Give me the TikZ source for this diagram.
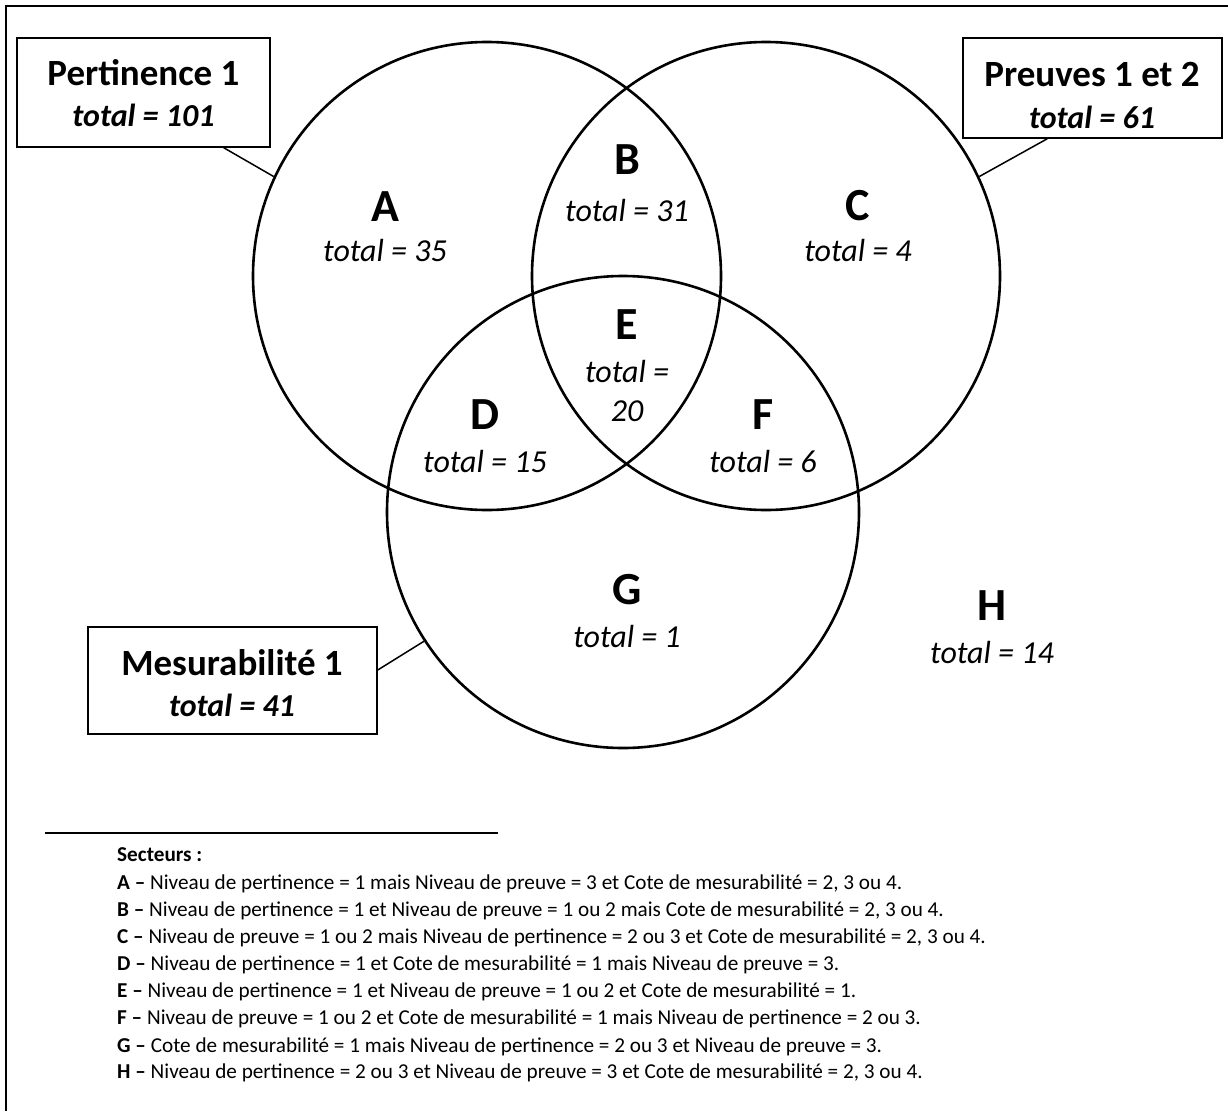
\documentclass[tikz,border=0pt]{standalone}
\usepackage{fontspec}
\setmainfont{Carlito}
\begin{document}
\begin{tikzpicture}[x=1pt,y=-1pt,
  setring/.style={draw, circle, line width=2.6pt, inner sep=0pt},
  tagbox/.style={draw, line width=1.5pt, inner sep=0pt},
  boxtitle/.style={font=\fontsize{37}{40}\selectfont\bfseries},
  boxtotal/.style={font=\fontsize{32}{36}\selectfont\bfseries\itshape},
  zone/.style={font=\fontsize{46}{50}\selectfont\bfseries},
  zonetotal/.style={font=\fontsize{32}{36}\selectfont\itshape},
  keyline/.style={anchor=base west, font=\fontsize{21.2}{24}\selectfont, inner sep=0pt},
  link/.style={line width=1.5pt}]
\useasboundingbox (0,0) rectangle (1228,1111);
% outer frame
\draw[line width=1.5pt] (1228,6) -- (6,6) -- (6,1111);

% the three sets
\node[setring, minimum size=468pt] (pert) at (487,276) {};
\node[setring, minimum size=468pt] (preu) at (766,276) {};
\node[setring, minimum size=472pt] (mesu) at (623,512) {};

% set captions
\node[tagbox, minimum width=253pt, minimum height=109pt] (bpert) at (143.5,92.5) {};
\node[boxtitle] (tpert) at (143.5,73) {Pertinence 1};
\node[boxtotal] (npert) at (143.5,115) {total = 101};

\node[tagbox, minimum width=259pt, minimum height=100pt] (bpreu) at (1092.5,88) {};
\node[boxtitle] (tpreu) at (1092,75) {Preuves 1 et 2};
\node[boxtotal] (npreu) at (1092,117) {total = 61};

\node[tagbox, minimum width=289pt, minimum height=107pt] (bmesu) at (232.5,680.5) {};
\node[boxtitle] (tmesu) at (232,663) {Mesurabilité 1};
\node[boxtotal] (nmesu) at (232,705) {total = 41};

\draw[link] ([xshift=-47pt]bpert.south east) -- (pert.155);
\draw[link] ([xshift=85pt]bpreu.south west) -- (preu.25.6);
\draw[link] ([yshift=10.5pt]bmesu.east) -- (mesu.213.5);

% sectors
\node[zone] (la) at (385,207) {A};
\node[zonetotal] (na) at (385,251) {total = 35};
\node[zone] (lb) at (627,160) {B};
\node[zonetotal] (nb) at (627,211) {total = 31};
\node[zone] (lc) at (858,206) {C};
\node[zonetotal] (nc) at (858,251) {total = 4};
\node[zone] (le) at (627,325) {E};
\node[zonetotal] (ne1) at (627,372) {total =};
\node[zonetotal] (ne2) at (627,411) {20};
\node[zone] (ld) at (485,415) {D};
\node[zonetotal] (nd) at (485,461) {total = 15};
\node[zone] (lf) at (763,415) {F};
\node[zonetotal] (nf) at (763,461) {total = 6};
\node[zone] (lg) at (627,590) {G};
\node[zonetotal] (ng) at (627,636) {total = 1};
\node[zone] (lh) at (992,606) {H};
\node[zonetotal] (nh) at (992,652) {total = 14};

% key
\draw[line width=1.3pt] (45,833) -- (498,833);
\node[keyline] (k0) at (117,861) {\textbf{Secteurs :}};
\node[keyline] (ka) at (117,889) {\textbf{A –} Niveau de pertinence = 1 mais Niveau de preuve = 3 et Cote de mesurabilité = 2, 3 ou 4.};
\node[keyline] (kb) at (117,916) {\textbf{B –} Niveau de pertinence = 1 et Niveau de preuve = 1 ou 2 mais Cote de mesurabilité = 2, 3 ou 4.};
\node[keyline] (kc) at (117,943) {\textbf{C –} Niveau de preuve = 1 ou 2 mais Niveau de pertinence = 2 ou 3 et Cote de mesurabilité = 2, 3 ou 4.};
\node[keyline] (kd) at (117,970) {\textbf{D –} Niveau de pertinence = 1 et Cote de mesurabilité = 1 mais Niveau de preuve = 3.};
\node[keyline] (ke) at (117,997) {\textbf{E –} Niveau de pertinence = 1 et Niveau de preuve = 1 ou 2 et Cote de mesurabilité = 1.};
\node[keyline] (kf) at (117,1024) {\textbf{F –} Niveau de preuve = 1 ou 2 et Cote de mesurabilité = 1 mais Niveau de pertinence = 2 ou 3.};
\node[keyline] (kg) at (117,1052) {\textbf{G –} Cote de mesurabilité = 1 mais Niveau de pertinence = 2 ou 3 et Niveau de preuve = 3.};
\node[keyline] (kh) at (117,1078) {\textbf{H –} Niveau de pertinence = 2 ou 3 et Niveau de preuve = 3 et Cote de mesurabilité = 2, 3 ou 4.};
\end{tikzpicture}
\end{document}
